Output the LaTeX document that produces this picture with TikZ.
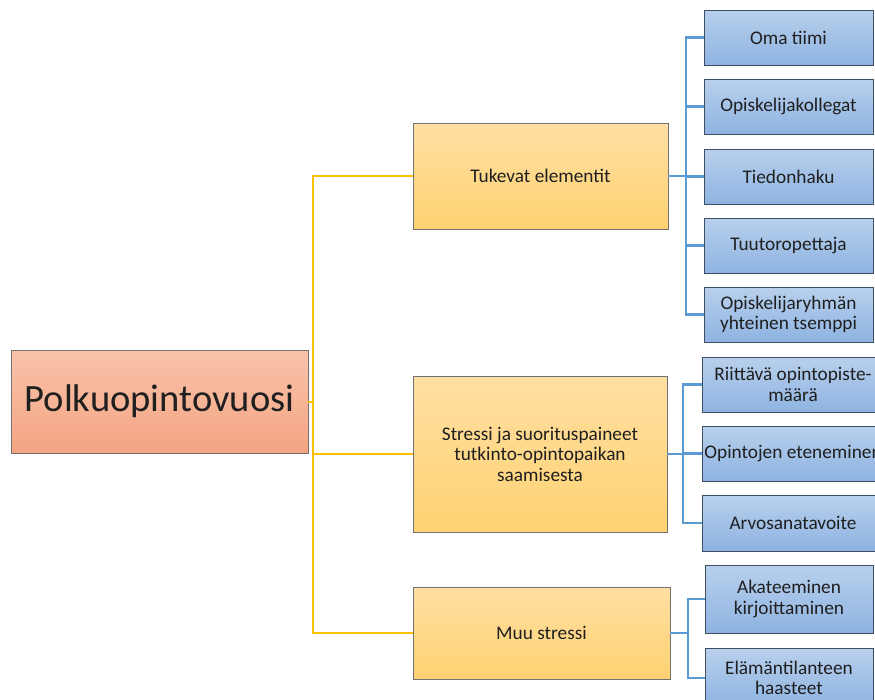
\documentclass[tikz,border=0pt]{standalone}
\usepackage{fontspec}
\setmainfont{Carlito}
\begin{document}
\begin{tikzpicture}[x=1pt,y=-1pt,
  box/.style={draw=#1, line width=0.8pt, anchor=north west, inner sep=1pt, outer sep=0pt, align=center, text=black!88},
  rootbox/.style={box=black!55, top color=rootTop, bottom color=rootBot, font=\fontsize{38.6}{44}\selectfont},
  midbox/.style={box=black!55, top color=midTop, bottom color=midBot, font=\fontsize{19.3}{20.5}\selectfont},
  leafbox/.style={box=leafEdge, top color=leafTop, bottom color=leafBot, font=\fontsize{19.3}{20.5}\selectfont},
  ylw/.style={draw=ylwLine, line width=2pt},
  blu/.style={draw=bluLine, line width=2.4pt}]
\definecolor{rootTop}{HTML}{F9C3AB}
\definecolor{rootBot}{HTML}{F4A482}
\definecolor{midTop}{HTML}{FFDFA2}
\definecolor{midBot}{HTML}{FFD272}
\definecolor{leafTop}{HTML}{B8D0EC}
\definecolor{leafBot}{HTML}{8EB3E1}
\definecolor{leafEdge}{HTML}{3F4F63}
\definecolor{ylwLine}{HTML}{FFC000}
\definecolor{bluLine}{HTML}{5B9BD5}
\useasboundingbox (0,0) rectangle (875,699);
\fill[white] (0,0) rectangle (875,699);

% root
\node[rootbox, minimum width=297, minimum height=103] (root) at (11,350) {Polkuopintovuosi};

% middle
\node[midbox, minimum width=255, minimum height=106] (m1) at (413,123) {Tukevat elementit};
\node[midbox, minimum width=254, minimum height=156] (m2) at (413,376) {Stressi ja suorituspaineet\\tutkinto-opintopaikan\\saamisesta};
\node[midbox, minimum width=257, minimum height=92] (m3) at (413,587) {Muu stressi};

% leaves group 1
\node[leafbox, minimum width=169, minimum height=55] (a1) at (704,10) {Oma tiimi};
\node[leafbox, minimum width=169, minimum height=55] (a2) at (704,79) {Opiskelijakollegat};
\node[leafbox, minimum width=169, minimum height=55] (a3) at (704,149) {Tiedonhaku};
\node[leafbox, minimum width=169, minimum height=55] (a4) at (704,218) {Tuutoropettaja};
\node[leafbox, minimum width=169, minimum height=55] (a5) at (704,287) {Opiskelijaryhmän\\yhteinen tsemppi};

% leaves group 2
\node[leafbox, minimum width=182, minimum height=55] (b1) at (702,357) {Riittävä opintopiste-\\määrä};
\node[leafbox, minimum width=182, minimum height=55] (b2) at (702,426) {Opintojen eteneminen};
\node[leafbox, minimum width=182, minimum height=56] (b3) at (702,495) {Arvosanatavoite};

% leaves group 3
\node[leafbox, minimum width=168, minimum height=68] (c1) at (705,565) {Akateeminen\\kirjoittaminen};
\node[leafbox, minimum width=168, minimum height=60] (c2) at (705,648) {Elämäntilanteen\\haasteet};

% yellow connectors
\draw[ylw] (root.east) -- ++(5,0) |- (m1.west);
\draw[ylw] (root.east) -- ++(5,0) |- (m2.west);
\draw[ylw] (root.east) -- ++(5,0) |- (m3.west);

% blue connectors
\foreach \n in {a1,a2,a3,a4,a5}
  \draw[blu] (m1.east) -- ++(18,0) |- (\n.west);
\foreach \n in {b1,b2,b3}
  \draw[blu] (m2.east) -- ++(16,0) |- (\n.west);
\foreach \n in {c1,c2}
  \draw[blu] (m3.east) -- ++(18,0) |- (\n.west);
\end{tikzpicture}
\end{document}
